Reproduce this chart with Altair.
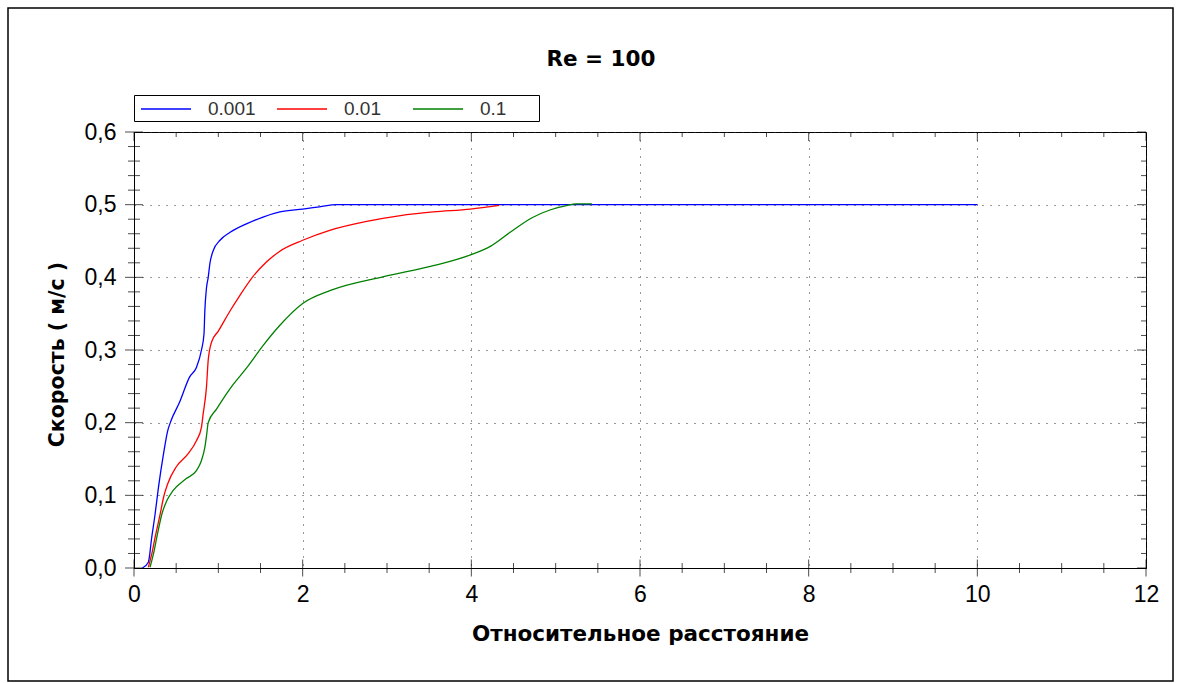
import altair as alt
import pandas as pd

# ---------------- data ----------------
series_names = ["0.001", "0.01", "0.1"]
series_colors = ["#0000ff", "#ff0000", "#008000"]

blue_x = [0.10, 0.17, 0.21, 0.25, 0.29, 0.35, 0.40, 0.44, 0.54, 0.66, 0.74, 0.80, 0.83, 0.84,
          0.86, 0.88, 0.90, 0.94, 1.02, 1.14, 1.34, 1.53, 1.73, 2.00, 2.20, 2.40, 10.0]
blue_y = [0.000, 0.008, 0.042, 0.074, 0.111, 0.157, 0.189, 0.203, 0.228, 0.263, 0.276, 0.300, 0.322, 0.354,
          0.386, 0.400, 0.419, 0.437, 0.451, 0.462, 0.474, 0.483, 0.490, 0.494, 0.497, 0.500, 0.500]

red_x = [0.17, 0.21, 0.25, 0.31, 0.35, 0.40, 0.50, 0.64, 0.74, 0.80, 0.82, 0.86, 0.88, 0.92,
         1.00, 1.14, 1.26, 1.41, 1.57, 1.73, 2.00, 2.33, 2.76, 3.16, 3.55, 3.99, 4.33]
red_y = [0.001, 0.019, 0.042, 0.074, 0.097, 0.116, 0.139, 0.157, 0.175, 0.194, 0.212, 0.250, 0.286, 0.311,
         0.326, 0.354, 0.376, 0.401, 0.421, 0.436, 0.451, 0.465, 0.477, 0.485, 0.490, 0.494, 0.499]

green_x = [0.19, 0.23, 0.27, 0.33, 0.39, 0.46, 0.62, 0.74, 0.80, 0.84, 0.86, 0.88, 0.98, 1.14,
           1.34, 1.53, 1.73, 2.00, 2.33, 2.96, 3.55, 3.99, 4.23, 4.46, 4.72, 4.94, 5.14, 5.24, 5.43]
green_y = [0.001, 0.019, 0.042, 0.074, 0.093, 0.106, 0.123, 0.134, 0.148, 0.166, 0.182, 0.200, 0.219, 0.247,
           0.276, 0.306, 0.334, 0.364, 0.382, 0.401, 0.416, 0.431, 0.443, 0.462, 0.482, 0.493, 0.499, 0.501, 0.501]

x_major = [0, 2, 4, 6, 8, 10, 12]
x_minor = [0.5, 1, 1.5, 2.5, 3, 3.5, 4.5, 5, 5.5, 6.5, 7, 7.5, 8.5, 9, 9.5, 10.5, 11, 11.5]
y_major = [0.0, 0.1, 0.2, 0.3, 0.4, 0.5, 0.6]
y_minor = [0.02, 0.04, 0.06, 0.08, 0.12, 0.14, 0.16, 0.18, 0.22, 0.24, 0.26, 0.28,
           0.32, 0.34, 0.36, 0.38, 0.42, 0.44, 0.46, 0.48, 0.52, 0.54, 0.56, 0.58]

chart_title = "Re = 100"
x_title = "Относительное расстояние"
y_title = "Скорость ( м/с )"

rows = []
for name, xs, ys in [("0.001", blue_x, blue_y), ("0.01", red_x, red_y), ("0.1", green_x, green_y)]:
    for i, (a, b) in enumerate(zip(xs, ys)):
        rows.append({"x": a, "y": b, "series": name, "order": i})
df = pd.DataFrame(rows)

# ---------------- layout ----------------
W, H = 1012, 436

xscale = alt.Scale(domain=[0, 12], nice=False, zero=False)
yscale = alt.Scale(domain=[0, 0.6], nice=False, zero=False)

x_axis = alt.Axis(
    values=x_major, format="d", grid=True, gridDash=[1, 7], gridColor="#333333", gridWidth=1,
    ticks=False, labelFontSize=23, labelFont="Liberation Sans", labelColor="black", labelPadding=15,
    labelFlush=False, labelOverlap=False,
    domainColor="black", title=x_title, titleFont="DejaVu Sans", titleFontSize=21.5,
    titleFontWeight="bold", titleColor="black", titleY=72, titleBaseline="alphabetic",
)
y_axis = alt.Axis(
    values=y_major, labelExpr="replace(format(datum.value, '.1f'), '.', ',')",
    grid=True, gridDash=[1, 7], gridColor="#333333", gridWidth=1,
    ticks=False, labelFontSize=23, labelFont="Liberation Sans", labelColor="black", labelPadding=18,
    labelFlush=False, labelOverlap=False,
    domainColor="black", title=y_title, titleFont="DejaVu Sans", titleFontSize=20.5,
    titleFontWeight="bold", titleColor="black", titleX=-77, titleY=H / 2 + 4, titleAngle=270,
    titleAlign="center", titleBaseline="middle",
)

X = alt.X("x:Q", scale=xscale, axis=x_axis)
Y = alt.Y("y:Q", scale=yscale, axis=y_axis)

legend = alt.Legend(
    title=None, orient="none", legendX=0, legendY=-37, direction="horizontal", columns=3,
    gridAlign="all", columnPadding=17, symbolType="M-2.5,0H2.5", symbolSize=400,
    symbolStrokeWidth=1.3, symbolOffset=18, labelOffset=31, labelFont="Liberation Sans",
    labelFontSize=19, labelColor="#333333", padding=3,
)

frame = alt.Chart(pd.DataFrame({"k": [0]})).mark_rect(
    fillOpacity=0, stroke="black", strokeWidth=1.5
).encode(x=alt.value(-126), x2=alt.value(1039), y=alt.value(-124), y2=alt.value(549))

legend_box = alt.Chart(pd.DataFrame({"k": [0]})).mark_rect(
    fill="white", stroke="black", strokeWidth=1
).encode(x=alt.value(0.5), x2=alt.value(405.5), y=alt.value(-36.5), y2=alt.value(-10.5))

lines = alt.Chart(df).mark_line(strokeWidth=1.3, interpolate="monotone").encode(
    x=X, y=Y,
    color=alt.Color("series:N", scale=alt.Scale(domain=series_names, range=series_colors), legend=legend),
    order="order:Q",
)

def vticks(values, size, ypos):
    return alt.Chart(pd.DataFrame({"x": values})).mark_tick(
        orient="vertical", size=size, thickness=1, color="black"
    ).encode(x=X, y=alt.value(ypos))

def hticks(values, size, xpos):
    return alt.Chart(pd.DataFrame({"y": values})).mark_tick(
        orient="horizontal", size=size, thickness=1, color="black"
    ).encode(y=Y, x=alt.value(xpos))

ticks = [
    vticks(x_major, 17, H), vticks(x_minor, 10, H),
    vticks(x_major, 9, 4.5), vticks(x_minor, 5, 2.5),
    hticks(y_major, 18, 0), hticks(y_minor, 12, 0),
    hticks(y_major, 9, W - 4.5), hticks(y_minor, 5, W - 2.5),
]

title_mark = alt.Chart(pd.DataFrame({"t": [chart_title]})).mark_text(
    font="DejaVu Sans", fontSize=21.5, fontWeight="bold", color="black", baseline="alphabetic", align="center"
).encode(text="t:N", x=alt.value(467), y=alt.value(-66))

chart = alt.layer(frame, legend_box, lines, *ticks, title_mark).properties(
    width=W, height=H, autosize="none",
    padding={"left": 134, "top": 132, "right": 36, "bottom": 115},
).configure(background="white").configure_view(stroke="black", strokeWidth=1)

chart.save("out.html", embed_options={"renderer": "svg", "actions": False})
